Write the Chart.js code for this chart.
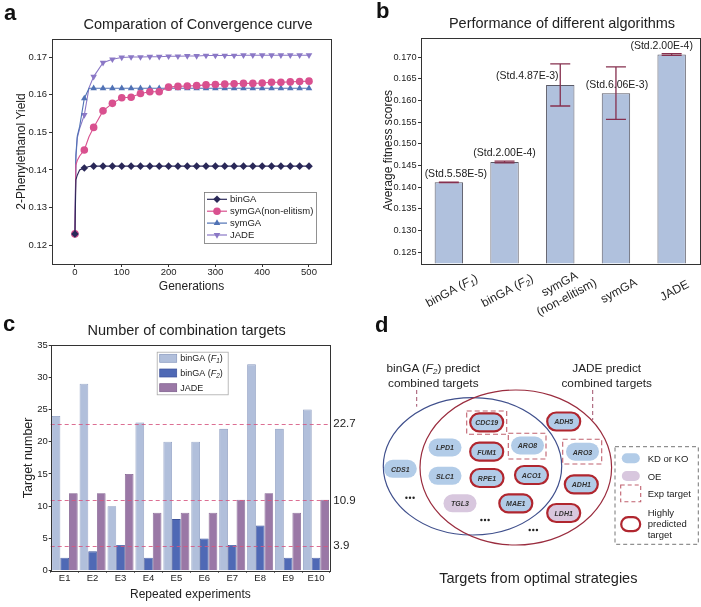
<!DOCTYPE html>
<html>
<head>
<meta charset="utf-8">
<script src="https://cdn.jsdelivr.net/npm/chart.js@4.4.0/dist/chart.umd.min.js"></script>
<style>
body { margin: 0; background: #fff; }
#page { position: relative; width: 701px; height: 607px; overflow: hidden; font-family: "Liberation Sans", Arial, sans-serif; }
canvas { position: absolute; }
#overlay { position: absolute; left: 0; top: 0; pointer-events: none; }
</style>
</head>
<body>
<div id="page">
  <canvas id="chartA" width="350" height="305" style="left:0;top:0"></canvas>
  <canvas id="chartB" width="351" height="320" style="left:350px;top:0"></canvas>
  <canvas id="chartC" width="370" height="302" style="left:0;top:305px"></canvas>
  <svg id="overlay" width="701" height="607" font-family="Liberation Sans, Arial, sans-serif"></svg>
</div>
<script>
// ---- panel a: convergence curves
var genMarks = [0, 20, 40, 60, 80, 100, 120, 140, 160, 180, 200, 220, 240, 260, 280, 300, 320, 340, 360, 380, 400, 420, 440, 460, 480, 500];
var genEarly = [2, 5, 10, 30];
var seriesNamesA = ['binGA', 'symGA(non-elitism)', 'symGA', 'JADE'];
var binGA = [0.1230, 0.1405, 0.1410, 0.1410, 0.1410, 0.1410, 0.1410, 0.1410, 0.1410, 0.1410, 0.1410, 0.1410, 0.1410, 0.1410, 0.1410, 0.1410, 0.1410, 0.1410, 0.1410, 0.1410, 0.1410, 0.1410, 0.1410, 0.1410, 0.1410, 0.1410];
var binGAEarly = [0.1374, 0.1386, 0.1400, 0.1409];
var symGAne = [0.1230, 0.1453, 0.1513, 0.1557, 0.1577, 0.1592, 0.1593, 0.1603, 0.1608, 0.1608, 0.1620, 0.1622, 0.1623, 0.1624, 0.1626, 0.1627, 0.1628, 0.1629, 0.1630, 0.1630, 0.1631, 0.1633, 0.1633, 0.1634, 0.1635, 0.1636];
var symGAneEarly = [0.1413, 0.1425, 0.1437, 0.1488];
var symGA = [0.1230, 0.1590, 0.1617, 0.1617, 0.1617, 0.1617, 0.1617, 0.1617, 0.1617, 0.1617, 0.1617, 0.1617, 0.1617, 0.1617, 0.1617, 0.1617, 0.1617, 0.1617, 0.1617, 0.1617, 0.1617, 0.1617, 0.1617, 0.1617, 0.1617, 0.1617];
var symGAEarly = [0.1440, 0.1490, 0.1515, 0.1617];
var jade = [0.1230, 0.1546, 0.1648, 0.1685, 0.1694, 0.1699, 0.1700, 0.1700, 0.1701, 0.1701, 0.1702, 0.1702, 0.1703, 0.1703, 0.1704, 0.1704, 0.1704, 0.1704, 0.1705, 0.1705, 0.1705, 0.1705, 0.1705, 0.1705, 0.1705, 0.1705];
var jadeEarly = [0.1430, 0.1485, 0.1510, 0.1618];
var xTicksA = [0, 100, 200, 300, 400, 500];
var yTicksA = [0.12, 0.13, 0.14, 0.15, 0.16, 0.17];

// ---- panel b: average fitness
var algNames = [['binGA (F1)'], ['binGA (F2)'], ['symGA', '(non-elitism)'], ['symGA'], ['JADE']];
var avgFitness = [0.1411, 0.1458, 0.1636, 0.1617, 0.1706];
var fitnessStd = [0.0000558, 0.0002, 0.00487, 0.00606, 0.0002];
var stdLabels = ['(Std.5.58E-5)', '(Std.2.00E-4)', '(Std.4.87E-3)', '(Std.6.06E-3)', '(Std.2.00E-4)'];
var yTicksB = [0.125, 0.130, 0.135, 0.140, 0.145, 0.150, 0.155, 0.160, 0.165, 0.170];

// ---- panel c: number of targets
var experiments = ['E1', 'E2', 'E3', 'E4', 'E5', 'E6', 'E7', 'E8', 'E9', 'E10'];
var seriesNamesC = ['binGA (F1)', 'binGA (F2)', 'JADE'];
var targetsF1 = [24, 29, 10, 23, 20, 20, 22, 32, 22, 25];
var targetsF2 = [2, 3, 4, 2, 8, 5, 4, 7, 2, 2];
var targetsJADE = [12, 12, 15, 9, 9, 9, 11, 12, 9, 11];
var meanLines = [22.7, 10.9, 3.9];
var yTicksC = [0, 5, 10, 15, 20, 25, 30, 35];

var FONT = '"Liberation Sans", Arial, sans-serif';

function mergeSeries(main, early) {
    var pts = [];
    for (var i = 0; i < genMarks.length; i++) pts.push({ x: genMarks[i], y: main[i], mark: true });
    for (var j = 0; j < genEarly.length; j++) pts.push({ x: genEarly[j], y: early[j], mark: false });
    pts.sort(function (a, b) { return a.x - b.x; });
    return pts;
}

// text with italic F and subscript digit, e.g. "binGA (F1)"
function drawRich(ctx, text, x, y, size, align) {
    var m = text.match(/^(.*)F(\d)(.*)$/);
    var parts = m ? [[m[1], 'n'], ['F', 'i'], [m[2], 's'], [m[3], 'n']] : [[text, 'n']];
    var fonts = { n: size + 'px ' + FONT, i: 'italic ' + size + 'px ' + FONT, s: 'italic ' + (size * 0.7).toFixed(1) + 'px ' + FONT };
    var w = 0, widths = [];
    parts.forEach(function (p) { ctx.font = fonts[p[1]]; var pw = ctx.measureText(p[0]).width; widths.push(pw); w += pw; });
    var cx = align === 'center' ? x - w / 2 : (align === 'right' ? x - w : x);
    ctx.textAlign = 'left';
    ctx.textBaseline = 'middle';
    parts.forEach(function (p, k) {
        ctx.font = fonts[p[1]];
        ctx.fillText(p[0], cx, p[1] === 's' ? y + size * 0.28 : y);
        cx += widths[k];
    });
}

var framePlugin = {
    id: 'frame',
    afterDraw: function (chart, args, o) {
        var a = chart.chartArea, ctx = chart.ctx;
        ctx.save();
        ctx.strokeStyle = o.color || '#333';
        ctx.lineWidth = 1;
        ctx.strokeRect(Math.round(a.left) + 0.5, Math.round(a.top) + 0.5, Math.round(a.right - a.left), Math.round(a.bottom - a.top));
        ctx.restore();
    }
};

var lineLegendPlugin = {
    id: 'lineLegend',
    afterDraw: function (chart, args, o) {
        var ctx = chart.ctx;
        ctx.save();
        ctx.strokeStyle = '#777';
        ctx.lineWidth = 0.8;
        ctx.strokeRect(o.left + 0.5, o.top + 0.5, o.width, o.height);
        chart.data.datasets.forEach(function (ds, i) {
            var y = o.top + o.firstRow + i * o.rowGap;
            ctx.strokeStyle = ds.borderColor;
            ctx.lineWidth = 1.2;
            ctx.beginPath();
            ctx.moveTo(o.left + 3, y);
            ctx.lineTo(o.left + 23, y);
            ctx.stroke();
            ctx.fillStyle = ds.pointBackgroundColor;
            Chart.helpers.drawPoint(ctx, { pointStyle: ds.pointStyle, radius: 3.8, rotation: ds.pointRotation || 0, borderWidth: 0 }, o.left + 13, y);
            ctx.fillStyle = '#222';
            ctx.font = '9.5px ' + FONT;
            ctx.textAlign = 'left';
            ctx.textBaseline = 'middle';
            ctx.fillText(ds.label, o.left + 26, y + 0.5);
        });
        ctx.restore();
    }
};

var boxLegendPlugin = {
    id: 'boxLegend',
    afterDraw: function (chart, args, o) {
        var ctx = chart.ctx;
        ctx.save();
        ctx.strokeStyle = '#aaa';
        ctx.lineWidth = 0.8;
        ctx.strokeRect(o.left + 0.5, o.top + 0.5, o.width, o.height);
        chart.data.datasets.forEach(function (ds, i) {
            var y = o.top + o.firstRow + i * o.rowGap;
            ctx.fillStyle = ds.backgroundColor;
            ctx.fillRect(o.left + 3, y - 4, 17, 8);
            ctx.strokeStyle = ds.borderColor;
            ctx.lineWidth = 0.7;
            ctx.strokeRect(o.left + 3, y - 4, 17, 8);
            ctx.fillStyle = '#222';
            drawRich(ctx, ds.label, o.left + 23.5, y + 0.5, 9, 'left');
        });
        ctx.restore();
    }
};

var errorBarPlugin = {
    id: 'errorBars',
    afterDatasetsDraw: function (chart, args, o) {
        var ys = chart.scales.y, ctx = chart.ctx;
        var meta = chart.getDatasetMeta(0);
        ctx.save();
        meta.data.forEach(function (bar, i) {
            var top = ys.getPixelForValue(avgFitness[i] + fitnessStd[i]);
            var bot = ys.getPixelForValue(avgFitness[i] - fitnessStd[i]);
            ctx.strokeStyle = o.color;
            ctx.lineWidth = 1.3;
            ctx.beginPath();
            ctx.moveTo(bar.x, top); ctx.lineTo(bar.x, bot);
            ctx.moveTo(bar.x - o.cap, top); ctx.lineTo(bar.x + o.cap, top);
            ctx.moveTo(bar.x - o.cap, bot); ctx.lineTo(bar.x + o.cap, bot);
            ctx.stroke();
            ctx.fillStyle = '#222';
            ctx.font = '10.5px ' + FONT;
            ctx.textAlign = 'center';
            ctx.textBaseline = 'middle';
            ctx.fillText(stdLabels[i], bar.x + o.shift[i], ys.getPixelForValue(avgFitness[i]) - 8.5);
        });
        ctx.restore();
    }
};

var rotLabelPlugin = {
    id: 'rotLabels',
    afterDraw: function (chart, args, o) {
        var xs = chart.scales.x, ctx = chart.ctx;
        ctx.save();
        ctx.fillStyle = '#222';
        chart.data.labels.forEach(function (lines, i) {
            ctx.save();
            ctx.translate(xs.getPixelForValue(i) + o.dx, o.y);
            ctx.rotate(-o.angle * Math.PI / 180);
            lines.forEach(function (t, k) {
                drawRich(ctx, t, 0, (k - (lines.length - 1) / 2) * o.lineGap, o.size, 'center');
            });
            ctx.restore();
        });
        ctx.restore();
    }
};

var meanLinePlugin = {
    id: 'meanLines',
    afterDatasetsDraw: function (chart, args, o) {
        var a = chart.chartArea, ys = chart.scales.y, ctx = chart.ctx;
        ctx.save();
        ctx.strokeStyle = o.color;
        ctx.lineWidth = 1;
        ctx.setLineDash([4, 3]);
        meanLines.forEach(function (v) {
            var y = Math.round(ys.getPixelForValue(v)) + 0.5;
            ctx.beginPath();
            ctx.moveTo(a.left, y);
            ctx.lineTo(a.right, y);
            ctx.stroke();
        });
        ctx.restore();
    }
};

function fixedTicks(list) {
    return function (scale) { scale.ticks = list.map(function (v) { return { value: v }; }); };
}

// ---------- chart a
var colorsA = ['#2a2858', '#d9508f', '#5072b5', '#8b78c6'];
var stylesA = ['rectRot', 'circle', 'triangle', 'triangle'];
var rotA = [0, 0, 0, 180];
var dataA = [mergeSeries(binGA, binGAEarly), mergeSeries(symGAne, symGAneEarly), mergeSeries(symGA, symGAEarly), mergeSeries(jade, jadeEarly)];

new Chart(document.getElementById('chartA'), {
    type: 'line',
    data: {
        datasets: dataA.map(function (d, i) {
            return {
                label: seriesNamesA[i],
                data: d,
                borderColor: colorsA[i],
                backgroundColor: colorsA[i],
                pointBackgroundColor: colorsA[i],
                pointBorderWidth: 0,
                pointStyle: stylesA[i],
                pointRotation: rotA[i],
                pointRadius: function (ctx) { return ctx.raw && ctx.raw.mark ? 3.8 : 0; },
                borderWidth: 1.1,
                tension: 0,
                fill: false
            };
        })
    },
    options: {
        responsive: false,
        animation: false,
        layout: { padding: { top: 39, right: 19, bottom: 7, left: 10.5 } },
        plugins: {
            legend: { display: false },
            tooltip: { enabled: false },
            frame: { color: '#333' },
            lineLegend: { left: 204, top: 192, width: 112, height: 51, firstRow: 7.3, rowGap: 11.9 }
        },
        scales: {
            x: {
                type: 'linear', min: -49, max: 547,
                afterBuildTicks: fixedTicks(xTicksA),
                afterFit: function (s) { s.height = 34; },
                grid: { drawOnChartArea: false, tickLength: 3, color: '#333' },
                border: { display: false },
                ticks: { padding: 0, color: '#222', font: { size: 9.5, family: FONT } },
                title: { display: true, text: 'Generations', color: '#222', font: { size: 12, family: FONT }, padding: { top: 0, bottom: 4 } }
            },
            y: {
                min: 0.115, max: 0.1748,
                afterBuildTicks: fixedTicks(yTicksA),
                afterFit: function (s) { s.width = 41.5; },
                grid: { drawOnChartArea: false, tickLength: 3, color: '#333' },
                border: { display: false },
                ticks: { padding: 2, color: '#222', font: { size: 9.5, family: FONT }, callback: function (v) { return v.toFixed(2); } },
                title: { display: true, text: '2-Phenylethanol Yield', color: '#222', font: { size: 12, family: FONT }, padding: { top: 4, bottom: 0 } }
            }
        }
    },
    plugins: [framePlugin, lineLegendPlugin]
});

// ---------- chart b
new Chart(document.getElementById('chartB'), {
    type: 'bar',
    data: {
        labels: algNames,
        datasets: [{
            label: 'Average fitness scores',
            data: avgFitness,
            backgroundColor: '#b0c1dd',
            borderColor: '#5a5a66',
            borderWidth: 1,
            borderSkipped: false,
            barPercentage: 0.51,
            categoryPercentage: 1
        }]
    },
    options: {
        responsive: false,
        animation: false,
        layout: { padding: { top: 37.7, right: 1.5, bottom: 0, left: 27 } },
        plugins: {
            legend: { display: false },
            tooltip: { enabled: false },
            frame: { color: '#333' },
            errorBars: { color: '#86304f', cap: 10, shift: [7, 0, -33, 1, -10] },
            rotLabels: { y: 291, dx: 3, angle: 28, size: 12, lineGap: 15 }
        },
        scales: {
            x: {
                afterFit: function (s) { s.height = 56.7; },
                grid: { display: false },
                border: { display: false },
                ticks: { display: false }
            },
            y: {
                min: 0.1224, max: 0.1745,
                afterBuildTicks: fixedTicks(yTicksB),
                afterFit: function (s) { s.width = 44; },
                grid: { drawOnChartArea: false, tickLength: 3, color: '#333' },
                border: { display: false },
                ticks: { padding: 1.5, color: '#222', font: { size: 9.2, family: FONT }, callback: function (v) { return v.toFixed(3); } },
                title: { display: true, text: 'Average fitness scores', color: '#222', font: { size: 12, family: FONT }, padding: { top: 4, bottom: 0 } }
            }
        }
    },
    plugins: [framePlugin, errorBarPlugin, rotLabelPlugin]
});

// ---------- chart c
var fillC = ['#b1bfdb', '#4f69b5', '#9a78a6'];
var edgeC = ['#8797bd', '#3c529a', '#7c5b8a'];
var valuesC = [targetsF1, targetsF2, targetsJADE];

new Chart(document.getElementById('chartC'), {
    type: 'bar',
    data: {
        labels: experiments,
        datasets: valuesC.map(function (v, i) {
            return {
                label: seriesNamesC[i],
                data: v,
                backgroundColor: fillC[i],
                borderColor: edgeC[i],
                borderWidth: 0.8,
                barPercentage: 1,
                categoryPercentage: 0.93
            };
        })
    },
    options: {
        responsive: false,
        animation: false,
        layout: { padding: { top: 40, right: 0, bottom: 1.5, left: 16.8 } },
        plugins: {
            legend: { display: false },
            tooltip: { enabled: false },
            frame: { color: '#333' },
            meanLines: { color: 'rgba(214, 86, 128, 0.85)' },
            boxLegend: { left: 156.7, top: 46.7, width: 71, height: 42.6, firstRow: 6.6, rowGap: 14.7 }
        },
        scales: {
            x: {
                afterFit: function (s) { s.height = 34.8; },
                grid: { drawOnChartArea: false, tickLength: 2, color: '#333' },
                border: { display: false },
                ticks: { padding: 0, color: '#222', font: { size: 9.5, family: FONT } },
                title: { display: true, text: 'Repeated experiments', color: '#222', font: { size: 12, family: FONT }, padding: { top: 0, bottom: 4 } }
            },
            y: {
                min: 0, max: 35,
                afterBuildTicks: fixedTicks(yTicksC),
                afterFit: function (s) { s.width = 33.9; },
                grid: { drawOnChartArea: false, tickLength: 2, color: '#333' },
                border: { display: false },
                ticks: { padding: 1, color: '#222', font: { size: 9.5, family: FONT } },
                title: { display: true, text: 'Target number', color: '#222', font: { size: 12.5, family: FONT }, padding: { top: 4, bottom: 0 } }
            },
            y1: {
                position: 'right',
                min: 0, max: 35,
                afterBuildTicks: fixedTicks(meanLines),
                afterFit: function (s) { s.width = 40; },
                grid: { display: false, drawTicks: false, tickLength: 0 },
                border: { display: false },
                ticks: { padding: 3.3, color: '#222', font: { size: 11.5, family: FONT } }
            }
        }
    },
    plugins: [framePlugin, meanLinePlugin, boxLegendPlugin]
});

// ---------- overlay text and panel d diagram (svg)
var geneNames = ['CDC19', 'ADH5', 'LPD1', 'FUM1', 'ARO8', 'ARO3', 'CDS1', 'SLC1', 'RPE1', 'ACO1', 'ADH1', 'TGL3', 'MAE1', 'LDH1'];
var geneKind = ['KD', 'KD', 'KD', 'KD', 'KD', 'KD', 'KD', 'KD', 'KD', 'KD', 'KD', 'OE', 'KD', 'OE'];
var geneHigh = [1, 1, 0, 1, 0, 0, 0, 0, 1, 1, 1, 0, 1, 1];
var genePos = [[116.7, 117.3], [193.7, 116.5], [75, 142.5], [116.7, 146.7], [157.5, 140.5], [212.5, 146.7], [30.3, 163.8], [75, 170.8], [117, 173], [161.5, 170], [211.3, 179.3], [90, 198.3], [145.8, 198.3], [193.7, 208]];
var expBoxes = [[96.7, 106, 40, 23.3], [138.3, 128.3, 37.7, 25.7], [192.7, 134.3, 39, 24.7]];

var svgNS = 'http://www.w3.org/2000/svg';
var svg = document.getElementById('overlay');
function el(tag, attrs, parent, text) {
    var e = document.createElementNS(svgNS, tag);
    for (var k in attrs) e.setAttribute(k, attrs[k]);
    if (text !== undefined) e.textContent = text;
    (parent || svg).appendChild(e);
    return e;
}
function label(x, y, text, size) {
    return el('text', { x: x, y: y, 'font-size': size, fill: '#222', 'text-anchor': 'middle', 'dominant-baseline': 'central' }, null, text);
}

// panel letters and titles
el('text', { x: 4, y: 20, 'font-size': 22, 'font-weight': 'bold', fill: '#111' }, null, 'a');
el('text', { x: 376, y: 18, 'font-size': 22, 'font-weight': 'bold', fill: '#111' }, null, 'b');
el('text', { x: 3, y: 330.5, 'font-size': 22, 'font-weight': 'bold', fill: '#111' }, null, 'c');
el('text', { x: 375, y: 331.5, 'font-size': 22, 'font-weight': 'bold', fill: '#111' }, null, 'd');
label(198, 24, 'Comparation of Convergence curve', 14.5);
label(562, 23.3, 'Performance of different algorithms', 14.5);
label(186.7, 330, 'Number of combination targets', 14.5);
label(538.3, 578.3, 'Targets from optimal strategies', 14.5);

var g = el('g', { transform: 'translate(370,305)' });
// header texts
var t1 = el('text', { x: 63.3, y: 63.3, 'font-size': 11.8, fill: '#222', 'text-anchor': 'middle', 'dominant-baseline': 'central' }, g);
el('tspan', {}, t1, 'binGA (');
el('tspan', { 'font-style': 'italic' }, t1, 'F');
el('tspan', { 'font-size': 8, dy: 2.5, 'font-style': 'italic' }, t1, '2');
el('tspan', { dy: -2.5 }, t1, ') predict');
el('text', { x: 63.3, y: 78.3, 'font-size': 11.8, fill: '#222', 'text-anchor': 'middle', 'dominant-baseline': 'central' }, g, 'combined targets');
el('text', { x: 236.7, y: 63.3, 'font-size': 11.8, fill: '#222', 'text-anchor': 'middle', 'dominant-baseline': 'central' }, g, 'JADE predict');
el('text', { x: 236.7, y: 78.3, 'font-size': 11.8, fill: '#222', 'text-anchor': 'middle', 'dominant-baseline': 'central' }, g, 'combined targets');
el('line', { x1: 46.7, y1: 85, x2: 46.7, y2: 101.7, stroke: '#a0506a', 'stroke-dasharray': '4 3', 'stroke-width': 1 }, g);
el('line', { x1: 222.7, y1: 85, x2: 222.7, y2: 115, stroke: '#a0506a', 'stroke-dasharray': '4 3', 'stroke-width': 1 }, g);

// venn ellipses
el('ellipse', { cx: 102.5, cy: 161.3, rx: 89.2, ry: 68.7, fill: 'none', stroke: '#3f4f8c', 'stroke-width': 1.2 }, g);
el('ellipse', { cx: 145.8, cy: 162.5, rx: 95.8, ry: 77.5, fill: 'none', stroke: '#9a2c3e', 'stroke-width': 1.2 }, g);

// experimental target boxes
expBoxes.forEach(function (b) {
    el('rect', { x: b[0], y: b[1], width: b[2], height: b[3], fill: 'none', stroke: '#c0606e', 'stroke-width': 1.1, 'stroke-dasharray': '5 3' }, g);
});

function pill(cx, cy, w, h, fill, high, parent) {
    el('rect', {
        x: cx - w / 2, y: cy - h / 2, width: w, height: h, rx: h / 2, ry: h / 2,
        fill: fill, stroke: high ? '#b0262f' : 'none', 'stroke-width': high ? 2.2 : 0
    }, parent);
}
var kindFill = { KD: '#b2cce8', OE: '#d8c7de' };
geneNames.forEach(function (name, i) {
    var p = genePos[i];
    pill(p[0], p[1], 33, 18, kindFill[geneKind[i]], geneHigh[i], g);
    el('text', { x: p[0], y: p[1] + 0.3, 'font-size': 7, 'font-weight': 'bold', 'font-style': 'italic', fill: '#333', 'text-anchor': 'middle', 'dominant-baseline': 'central' }, g, name);
});
[[40, 192.7], [115, 215], [163.3, 225]].forEach(function (d) {
    for (var k = -1; k <= 1; k++) el('circle', { cx: d[0] + k * 3.6, cy: d[1], r: 1.2, fill: '#222' }, g);
});

// panel d legend
el('rect', { x: 245, y: 141.7, width: 83.3, height: 97.6, fill: 'none', stroke: '#666', 'stroke-width': 0.9, 'stroke-dasharray': '4 3' }, g);
pill(260.8, 153.3, 18, 10, kindFill.KD, 0, g);
pill(260.8, 171, 18, 10, kindFill.OE, 0, g);
el('rect', { x: 250.7, y: 180, width: 20, height: 16.7, fill: 'none', stroke: '#c0606e', 'stroke-width': 1.1, 'stroke-dasharray': '4 3' }, g);
pill(260.7, 219.2, 19, 14, '#fff', 1, g);
var legTexts = [['KD or KO', 153.3], ['OE', 171], ['Exp target', 188.7], ['Highly', 207.7], ['predicted', 218.7], ['target', 229.7]];
legTexts.forEach(function (t) {
    el('text', { x: 277.7, y: t[1], 'font-size': 9.5, fill: '#222', 'dominant-baseline': 'central' }, g, t[0]);
});
</script>
</body>
</html>
